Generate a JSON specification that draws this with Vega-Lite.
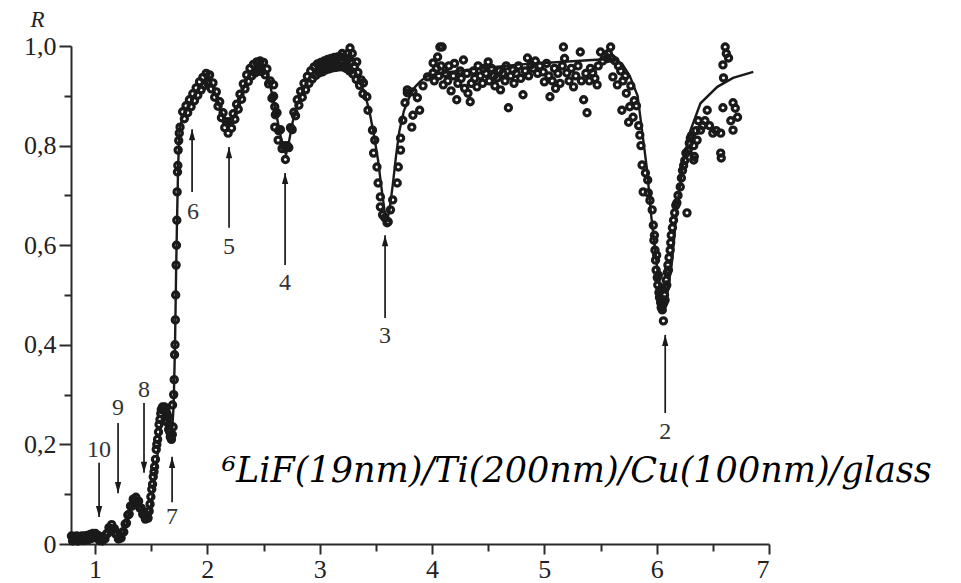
{
 "$schema": "https://vega.github.io/schema/vega-lite/v6.json",
 "width": 698, "height": 498,
 "autosize": "none",
 "padding": {"left": 71, "top": 46, "right": 192, "bottom": 39},
 "background": "white",
 "config": {"view": {"stroke": null}, "axis": {"grid": false, "domainColor": "#2a2a2a", "domainWidth": 2, "tickColor": "#2a2a2a", "tickWidth": 2, "labelFont": "Liberation Serif", "labelFontSize": 26, "labelColor": "#222"}},
 "datasets": {
  "fit": [
{"x":0.786,"y":0.010},{"x":0.85,"y":0.011},{"x":0.911,"y":0.011},{"x":0.96,"y":0.013},{"x":1.0,"y":0.015},{"x":1.035,"y":0.012},{"x":1.071,"y":0.009},{"x":1.11,"y":0.018},{"x":1.151,"y":0.032},{"x":1.19,"y":0.024},{"x":1.223,"y":0.012},{"x":1.26,"y":0.026},{"x":1.294,"y":0.05},{"x":1.325,"y":0.078},{"x":1.356,"y":0.088},{"x":1.385,"y":0.084},{"x":1.41,"y":0.072},{"x":1.44,"y":0.058},{"x":1.463,"y":0.054},{"x":1.485,"y":0.062},{"x":1.508,"y":0.09},{"x":1.53,"y":0.13},{"x":1.552,"y":0.17},{"x":1.575,"y":0.215},{"x":1.595,"y":0.25},{"x":1.615,"y":0.268},{"x":1.64,"y":0.268},{"x":1.665,"y":0.245},{"x":1.686,"y":0.225},{"x":1.70,"y":0.28},{"x":1.712,"y":0.40},{"x":1.722,"y":0.55},{"x":1.73,"y":0.65},{"x":1.74,"y":0.76},{"x":1.752,"y":0.83},{"x":1.775,"y":0.855},{"x":1.82,"y":0.874},{"x":1.86,"y":0.89},{"x":1.90,"y":0.906},{"x":1.94,"y":0.92},{"x":1.98,"y":0.933},{"x":2.0,"y":0.936},{"x":2.02,"y":0.932},{"x":2.06,"y":0.91},{"x":2.10,"y":0.886},{"x":2.14,"y":0.856},{"x":2.18,"y":0.835},{"x":2.22,"y":0.848},{"x":2.26,"y":0.873},{"x":2.30,"y":0.9},{"x":2.34,"y":0.927},{"x":2.38,"y":0.945},{"x":2.42,"y":0.955},{"x":2.46,"y":0.96},{"x":2.50,"y":0.957},{"x":2.54,"y":0.938},{"x":2.58,"y":0.9},{"x":2.62,"y":0.856},{"x":2.66,"y":0.81},{"x":2.70,"y":0.782},{"x":2.72,"y":0.8},{"x":2.76,"y":0.848},{"x":2.80,"y":0.882},{"x":2.84,"y":0.905},{"x":2.88,"y":0.924},{"x":2.92,"y":0.94},{"x":2.96,"y":0.95},{"x":3.0,"y":0.956},{"x":3.08,"y":0.964},{"x":3.16,"y":0.968},{"x":3.24,"y":0.965},{"x":3.28,"y":0.958},{"x":3.32,"y":0.946},{"x":3.36,"y":0.928},{"x":3.40,"y":0.905},{"x":3.44,"y":0.872},{"x":3.48,"y":0.825},{"x":3.52,"y":0.77},{"x":3.55,"y":0.715},{"x":3.58,"y":0.665},{"x":3.60,"y":0.652},{"x":3.62,"y":0.668},{"x":3.65,"y":0.72},{"x":3.68,"y":0.78},{"x":3.71,"y":0.83},{"x":3.75,"y":0.87},{"x":3.80,"y":0.898},{"x":3.85,"y":0.918},{"x":3.90,"y":0.93},{"x":3.95,"y":0.938},{"x":4.0,"y":0.942},{"x":4.16,"y":0.948},{"x":4.43,"y":0.955},{"x":4.79,"y":0.963},{"x":5.14,"y":0.968},{"x":5.50,"y":0.973},{"x":5.61,"y":0.974},{"x":5.69,"y":0.965},{"x":5.76,"y":0.94},{"x":5.83,"y":0.9},{"x":5.87,"y":0.83},{"x":5.915,"y":0.75},{"x":5.951,"y":0.66},{"x":5.987,"y":0.59},{"x":6.022,"y":0.52},{"x":6.058,"y":0.475},{"x":6.094,"y":0.5},{"x":6.138,"y":0.57},{"x":6.183,"y":0.68},{"x":6.236,"y":0.765},{"x":6.30,"y":0.83},{"x":6.39,"y":0.885},{"x":6.54,"y":0.918},{"x":6.68,"y":0.936},{"x":6.86,"y":0.948}
  ],
  "exp": [
{"x":0.79,"y":0.016},{"x":0.8,"y":0.006},{"x":0.812,"y":0.015},{"x":0.824,"y":0.007},{"x":0.836,"y":0.016},{"x":0.848,"y":0.006},{"x":0.86,"y":0.015},{"x":0.872,"y":0.008},{"x":0.884,"y":0.016},{"x":0.896,"y":0.007},{"x":0.908,"y":0.016},{"x":0.92,"y":0.008},{"x":0.932,"y":0.017},{"x":0.944,"y":0.009},{"x":0.956,"y":0.019},{"x":0.968,"y":0.011},{"x":0.98,"y":0.021},{"x":0.992,"y":0.013},{"x":1.004,"y":0.021},{"x":1.016,"y":0.012},{"x":1.028,"y":0.017},{"x":1.04,"y":0.007},{"x":1.052,"y":0.014},{"x":1.064,"y":0.006},{"x":1.076,"y":0.013},{"x":1.088,"y":0.01},{"x":1.1,"y":0.02},{"x":1.112,"y":0.021},{"x":1.124,"y":0.033},{"x":1.136,"y":0.03},{"x":1.148,"y":0.039},{"x":1.16,"y":0.03},{"x":1.172,"y":0.031},{"x":1.184,"y":0.02},{"x":1.196,"y":0.02},{"x":1.208,"y":0.01},{"x":1.22,"y":0.015},{"x":1.232,"y":0.012},{"x":1.244,"y":0.024},{"x":1.256,"y":0.024},{"x":1.268,"y":0.04},{"x":1.28,"y":0.042},{"x":1.292,"y":0.058},{"x":1.304,"y":0.06},{"x":1.316,"y":0.076},{"x":1.328,"y":0.076},{"x":1.34,"y":0.09},{"x":1.352,"y":0.086},{"x":1.364,"y":0.094},{"x":1.376,"y":0.084},{"x":1.388,"y":0.086},{"x":1.4,"y":0.072},{"x":1.412,"y":0.072},{"x":1.424,"y":0.06},{"x":1.436,"y":0.062},{"x":1.448,"y":0.05},{"x":1.46,"y":0.058},{"x":1.472,"y":0.052},
{"x":1.482,"y":0.066},{"x":1.49,"y":0.08},{"x":1.497,"y":0.095},{"x":1.505,"y":0.11},{"x":1.512,"y":0.12},{"x":1.518,"y":0.135},{"x":1.525,"y":0.145},{"x":1.53,"y":0.155},{"x":1.538,"y":0.17},{"x":1.545,"y":0.19},{"x":1.55,"y":0.2},{"x":1.557,"y":0.21},{"x":1.565,"y":0.225},{"x":1.57,"y":0.24},{"x":1.578,"y":0.25},{"x":1.585,"y":0.262},{"x":1.59,"y":0.27},{"x":1.6,"y":0.275},{"x":1.61,"y":0.27},{"x":1.62,"y":0.275},{"x":1.63,"y":0.27},{"x":1.64,"y":0.262},{"x":1.65,"y":0.255},{"x":1.66,"y":0.24},{"x":1.665,"y":0.225},{"x":1.67,"y":0.215},{"x":1.68,"y":0.21},{"x":1.688,"y":0.22},{"x":1.695,"y":0.235},{"x":1.64,"y":0.245},{"x":1.655,"y":0.23},{"x":1.69,"y":0.279},
{"x":1.7,"y":0.3},{"x":1.705,"y":0.33},{"x":1.708,"y":0.38},{"x":1.712,"y":0.4},{"x":1.715,"y":0.45},{"x":1.718,"y":0.5},{"x":1.722,"y":0.56},{"x":1.725,"y":0.6},{"x":1.728,"y":0.65},{"x":1.731,"y":0.707},{"x":1.734,"y":0.747},{"x":1.737,"y":0.76},{"x":1.74,"y":0.791},{"x":1.745,"y":0.81},{"x":1.75,"y":0.825},{"x":1.757,"y":0.837},
{"x":1.78,"y":0.868},{"x":1.795,"y":0.854},{"x":1.81,"y":0.88},{"x":1.825,"y":0.866},{"x":1.84,"y":0.892},{"x":1.855,"y":0.878},{"x":1.87,"y":0.904},{"x":1.885,"y":0.89},{"x":1.9,"y":0.916},{"x":1.915,"y":0.901},{"x":1.93,"y":0.928},{"x":1.945,"y":0.912},{"x":1.96,"y":0.937},{"x":1.975,"y":0.921},{"x":1.99,"y":0.945},{"x":2.005,"y":0.925},{"x":2.02,"y":0.942},{"x":2.035,"y":0.914},{"x":2.05,"y":0.926},{"x":2.065,"y":0.897},{"x":2.08,"y":0.908},{"x":2.095,"y":0.879},{"x":2.11,"y":0.888},{"x":2.125,"y":0.856},{"x":2.14,"y":0.866},{"x":2.155,"y":0.836},{"x":2.17,"y":0.848},{"x":2.185,"y":0.825},{"x":2.2,"y":0.848},{"x":2.215,"y":0.835},{"x":2.23,"y":0.864},{"x":2.245,"y":0.853},{"x":2.26,"y":0.883},{"x":2.275,"y":0.873},{"x":2.29,"y":0.903},{"x":2.305,"y":0.893},{"x":2.32,"y":0.924},{"x":2.335,"y":0.914},{"x":2.35,"y":0.942},{"x":2.365,"y":0.929},{"x":2.38,"y":0.955},{"x":2.395,"y":0.94},{"x":2.41,"y":0.963},{"x":2.425,"y":0.946},{"x":2.44,"y":0.968},{"x":2.455,"y":0.949},{"x":2.47,"y":0.97},{"x":2.485,"y":0.949},{"x":2.5,"y":0.967},{"x":2.515,"y":0.942},{"x":2.53,"y":0.954},{"x":2.545,"y":0.924},{"x":2.56,"y":0.93},{"x":2.575,"y":0.895},{"x":2.59,"y":0.899},{"x":2.605,"y":0.862},{"x":2.62,"y":0.866},{"x":2.635,"y":0.83},{"x":2.65,"y":0.832},{"x":2.665,"y":0.794},{"x":2.68,"y":0.8},{"x":2.695,"y":0.772},{"x":2.71,"y":0.8},{"x":2.725,"y":0.796},{"x":2.74,"y":0.836},{"x":2.755,"y":0.832},{"x":2.77,"y":0.867},{"x":2.785,"y":0.86},{"x":2.8,"y":0.892},{"x":2.815,"y":0.881},{"x":2.83,"y":0.909},{"x":2.845,"y":0.897},{"x":2.86,"y":0.925},{"x":2.875,"y":0.912},{"x":2.89,"y":0.939},{"x":2.905,"y":0.925},{"x":2.92,"y":0.95},{"x":2.935,"y":0.934},{"x":2.95,"y":0.958},{"x":2.965,"y":0.941},{"x":2.98,"y":0.964},{"x":2.995,"y":0.946},{"x":3.01,"y":0.967},{"x":3.025,"y":0.948},{"x":3.04,"y":0.97},{"x":3.055,"y":0.952},{"x":3.07,"y":0.973},{"x":3.085,"y":0.954},{"x":3.1,"y":0.975},{"x":3.115,"y":0.956},{"x":3.13,"y":0.977},{"x":3.145,"y":0.957},{"x":3.16,"y":0.978},{"x":3.175,"y":0.958},{"x":3.19,"y":0.978},{"x":3.205,"y":0.958},{"x":3.22,"y":0.977},{"x":3.235,"y":0.955},{"x":3.25,"y":0.973},{"x":3.265,"y":0.95},{"x":3.28,"y":0.968},{"x":3.295,"y":0.944},{"x":3.31,"y":0.959},{"x":3.325,"y":0.933},{"x":3.34,"y":0.947},{"x":3.355,"y":0.921},{"x":3.37,"y":0.932},{"x":3.385,"y":0.904},
{"x":3.27,"y":0.996},{"x":3.25,"y":0.985},{"x":3.29,"y":0.985},{"x":3.2,"y":0.985},{"x":2.59,"y":0.922},{"x":2.6,"y":0.878},{"x":2.6,"y":0.837},{"x":2.63,"y":0.811},
{"x":3.33,"y":0.968},{"x":3.39,"y":0.926},{"x":3.42,"y":0.898},{"x":3.43,"y":0.871},{"x":3.47,"y":0.831},{"x":3.49,"y":0.811},{"x":3.48,"y":0.785},{"x":3.51,"y":0.757},{"x":3.52,"y":0.725},{"x":3.54,"y":0.697},{"x":3.54,"y":0.677},{"x":3.56,"y":0.661},{"x":3.58,"y":0.655},{"x":3.6,"y":0.645},{"x":3.61,"y":0.647},{"x":3.63,"y":0.671},{"x":3.65,"y":0.691},{"x":3.69,"y":0.725},{"x":3.7,"y":0.757},{"x":3.72,"y":0.791},{"x":3.72,"y":0.815},{"x":3.74,"y":0.851},{"x":3.76,"y":0.886},{"x":3.78,"y":0.912},{"x":3.78,"y":0.906},{"x":3.83,"y":0.861},{"x":3.82,"y":0.837},{"x":3.83,"y":0.908},{"x":3.87,"y":0.896},{"x":3.89,"y":0.871},{"x":3.92,"y":0.92},{"x":3.96,"y":0.938},{"x":4.01,"y":0.946},{"x":4.01,"y":0.966},{"x":4.05,"y":0.978},{"x":4.09,"y":0.998},
{"x":4.02,"y":0.93},{"x":4.04,"y":0.955},{"x":4.06,"y":0.94},{"x":4.07,"y":0.998},{"x":4.08,"y":0.96},{"x":4.1,"y":0.922},{"x":4.12,"y":0.945},{"x":4.14,"y":0.93},{"x":4.15,"y":0.96},{"x":4.17,"y":0.91},{"x":4.19,"y":0.94},{"x":4.2,"y":0.965},{"x":4.22,"y":0.892},{"x":4.23,"y":0.925},{"x":4.25,"y":0.95},{"x":4.26,"y":0.935},{"x":4.28,"y":0.972},{"x":4.29,"y":0.915},{"x":4.31,"y":0.945},{"x":4.32,"y":0.905},{"x":4.34,"y":0.888},{"x":4.35,"y":0.925},{"x":4.37,"y":0.95},{"x":4.38,"y":0.935},{"x":4.4,"y":0.918},{"x":4.41,"y":0.96},{"x":4.43,"y":0.94},{"x":4.45,"y":0.925},{"x":4.46,"y":0.955},{"x":4.48,"y":0.945},{"x":4.5,"y":0.968},{"x":4.51,"y":0.93},{"x":4.53,"y":0.955},{"x":4.55,"y":0.94},{"x":4.56,"y":0.92},{"x":4.58,"y":0.936},{"x":4.6,"y":0.95},{"x":4.61,"y":0.912},{"x":4.63,"y":0.945},{"x":4.65,"y":0.93},{"x":4.66,"y":0.96},{"x":4.68,"y":0.876},{"x":4.7,"y":0.94},{"x":4.72,"y":0.952},{"x":4.73,"y":0.925},{"x":4.75,"y":0.945},{"x":4.77,"y":0.96},{"x":4.79,"y":0.935},{"x":4.81,"y":0.902},{"x":4.83,"y":0.95},{"x":4.85,"y":0.976},{"x":4.86,"y":0.94},{"x":4.88,"y":0.962},{"x":4.9,"y":0.955},{"x":4.92,"y":0.97},{"x":4.94,"y":0.945},{"x":4.96,"y":0.96},{"x":4.99,"y":0.948},{"x":5.0,"y":0.928},{"x":5.02,"y":0.965},{"x":5.04,"y":0.94},{"x":5.05,"y":0.898},{"x":5.07,"y":0.93},{"x":5.09,"y":0.955},{"x":5.1,"y":0.915},{"x":5.12,"y":0.945},{"x":5.14,"y":0.925},{"x":5.16,"y":0.96},{"x":5.17,"y":0.998},{"x":5.18,"y":0.975},{"x":5.2,"y":0.946},{"x":5.22,"y":0.93},{"x":5.24,"y":0.955},{"x":5.26,"y":0.918},{"x":5.28,"y":0.94},{"x":5.3,"y":0.96},{"x":5.32,"y":0.988},{"x":5.33,"y":0.93},{"x":5.35,"y":0.892},{"x":5.37,"y":0.945},{"x":5.38,"y":0.866},{"x":5.4,"y":0.93},{"x":5.41,"y":0.955},{"x":5.43,"y":0.946},{"x":5.45,"y":0.935},{"x":5.47,"y":0.922},{"x":5.48,"y":0.96},{"x":5.5,"y":0.988},{"x":5.52,"y":0.97},{"x":5.54,"y":0.98},{"x":5.56,"y":0.975},{"x":5.57,"y":0.985},{"x":5.59,"y":0.998},{"x":5.6,"y":0.975},{"x":5.61,"y":0.938},{"x":5.63,"y":0.97},{"x":5.65,"y":0.922},{"x":5.66,"y":0.96},{"x":5.68,"y":0.95},{"x":5.69,"y":0.871},{"x":5.7,"y":0.93},{"x":5.72,"y":0.94},{"x":5.73,"y":0.905},{"x":5.75,"y":0.847},{"x":5.76,"y":0.878},{"x":5.77,"y":0.92},{"x":5.79,"y":0.857},{"x":5.8,"y":0.89},{"x":5.82,"y":0.88},{"x":5.84,"y":0.84},{"x":5.85,"y":0.821},{"x":5.86,"y":0.8},{"x":5.87,"y":0.761},{"x":5.88,"y":0.707},{"x":5.9,"y":0.745},{"x":5.92,"y":0.731},{"x":5.925,"y":0.705},{"x":5.94,"y":0.69},{"x":5.96,"y":0.671},
{"x":5.97,"y":0.64},{"x":5.975,"y":0.61},{"x":5.98,"y":0.62},{"x":5.985,"y":0.59},{"x":5.99,"y":0.57},{"x":5.995,"y":0.55},{"x":6.0,"y":0.58},{"x":6.005,"y":0.535},{"x":6.01,"y":0.52},{"x":6.015,"y":0.54},{"x":6.02,"y":0.505},{"x":6.025,"y":0.495},{"x":6.03,"y":0.51},{"x":6.035,"y":0.485},{"x":6.04,"y":0.475},{"x":6.045,"y":0.49},{"x":6.05,"y":0.47},{"x":6.055,"y":0.48},{"x":6.06,"y":0.448},{"x":6.065,"y":0.485},{"x":6.07,"y":0.5},{"x":6.075,"y":0.49},{"x":6.08,"y":0.515},{"x":6.085,"y":0.53},{"x":6.09,"y":0.52},{"x":6.095,"y":0.545},{"x":6.1,"y":0.56},{"x":6.105,"y":0.55},{"x":6.11,"y":0.575},{"x":6.12,"y":0.59},{"x":6.125,"y":0.605},{"x":6.13,"y":0.62},{"x":6.14,"y":0.635},{"x":6.15,"y":0.65},{"x":6.16,"y":0.665},{"x":6.17,"y":0.68},{"x":6.18,"y":0.685},{"x":6.19,"y":0.7},{"x":6.21,"y":0.717},{"x":6.22,"y":0.735},{"x":6.23,"y":0.75},{"x":6.24,"y":0.76},{"x":6.25,"y":0.77},{"x":6.26,"y":0.785},{"x":6.27,"y":0.665},{"x":6.28,"y":0.79},{"x":6.29,"y":0.805},{"x":6.3,"y":0.815},{"x":6.31,"y":0.82},{"x":6.33,"y":0.771},{"x":6.335,"y":0.778},{"x":6.33,"y":0.8},{"x":6.35,"y":0.83},{"x":6.36,"y":0.811},{"x":6.37,"y":0.85},{"x":6.39,"y":0.831},{"x":6.41,"y":0.84},{"x":6.43,"y":0.85},{"x":6.45,"y":0.871},{"x":6.47,"y":0.84},{"x":6.5,"y":0.825},{"x":6.53,"y":0.83},{"x":6.57,"y":0.825},{"x":6.57,"y":0.785},{"x":6.575,"y":0.775},{"x":6.59,"y":0.876},{"x":6.59,"y":0.962},{"x":6.595,"y":0.936},{"x":6.61,"y":0.998},{"x":6.62,"y":0.985},{"x":6.64,"y":0.976},{"x":6.66,"y":0.85},{"x":6.68,"y":0.831},{"x":6.68,"y":0.886},{"x":6.7,"y":0.875},{"x":6.72,"y":0.857}
  ],
  "arrows": [
{"x":1.036,"base":0.163,"tip":0.054,"dir":"down"},{"x":1.205,"base":0.243,"tip":0.102,"dir":"down"},{"x":1.436,"base":0.283,"tip":0.143,"dir":"down"},{"x":1.686,"base":0.084,"tip":0.175,"dir":"up"},{"x":1.864,"base":0.707,"tip":0.833,"dir":"up"},{"x":2.193,"base":0.635,"tip":0.797,"dir":"up"},{"x":2.692,"base":0.56,"tip":0.745,"dir":"up"},{"x":3.582,"base":0.454,"tip":0.62,"dir":"up"},{"x":6.076,"base":0.263,"tip":0.42,"dir":"up"}
  ],
  "labels": [
{"x":1.036,"y":0.189,"t":"10"},{"x":1.205,"y":0.273,"t":"9"},{"x":1.436,"y":0.309,"t":"8"},{"x":1.686,"y":0.054,"t":"7"},{"x":1.872,"y":0.667,"t":"6"},{"x":2.193,"y":0.596,"t":"5"},{"x":2.692,"y":0.524,"t":"4"},{"x":3.582,"y":0.418,"t":"3"},{"x":6.076,"y":0.225,"t":"2"}
  ],
  "note": [{"x":2.131,"y":0.125,"t":"⁶LiF(19nm)/Ti(200nm)/Cu(100nm)/glass"}]
 },
 "layer": [
  {
   "data": {"name": "fit"},
   "mark": {"type": "line", "color": "#1a1a1a", "strokeWidth": 2.4},
   "encoding": {
    "x": {"field": "x", "type": "quantitative", "scale": {"domain": [0.786, 7], "nice": false, "zero": false},
      "axis": {"orient": "bottom", "values": [1,2,3,4,5,6,7], "format": "d", "tickSize": 10, "labelPadding": 2, "labelFontSize": 26, "labelFont": "Liberation Serif", "title": null}},
    "y": {"field": "y", "type": "quantitative", "scale": {"domain": [0, 1], "nice": false, "zero": false},
      "axis": {"orient": "left", "values": [0,0.2,0.4,0.6,0.8,1.0], "tickSize": 12, "labelPadding": 3, "labelFontSize": 26, "labelFont": "Liberation Serif",
        "labelExpr": "datum.value == 0 ? '0' : replace(format(datum.value, '.1f'), '.', ',')",
        "title": "R", "titleAngle": 0, "titleFont": "Liberation Serif", "titleFontStyle": "italic", "titleFontWeight": "normal", "titleFontSize": 23, "titleColor": "#222", "titleX": -34, "titleY": -27, "titleAlign": "center", "titleBaseline": "middle"}}
   }
  },
  {
   "data": {"name": "exp"},
   "mark": {"type": "point", "shape": "circle", "filled": false, "stroke": "#1a1a1a", "strokeWidth": 3.2, "size": 38, "opacity": 1},
   "encoding": {
    "x": {"field": "x", "type": "quantitative", "axis": {"orient": "bottom", "values": [1.5,2.5,3.5,4.5,5.5,6.5], "labels": false, "domain": false, "tickSize": 7, "title": null}},
    "y": {"field": "y", "type": "quantitative", "axis": {"orient": "left", "values": [0.1,0.3,0.5,0.7,0.9], "labels": false, "domain": false, "tickSize": 7, "title": null}}
   }
  },
  {
   "data": {"name": "arrows"},
   "mark": {"type": "rule", "color": "#1a1a1a", "strokeWidth": 1.7},
   "encoding": {
    "x": {"field": "x", "type": "quantitative", "axis": null},
    "y": {"field": "base", "type": "quantitative", "axis": null},
    "y2": {"field": "tip"}
   }
  },
  {
   "data": {"name": "arrows"},
   "mark": {"type": "point", "filled": true, "color": "#1a1a1a", "size": 36, "opacity": 1, "strokeWidth": 0},
   "encoding": {
    "x": {"field": "x", "type": "quantitative", "axis": null},
    "y": {"field": "tip", "type": "quantitative", "axis": null},
    "shape": {"field": "dir", "type": "nominal", "legend": null, "scale": {"domain": ["up", "down"], "range": ["M0,0L-1.05,3.7L1.05,3.7Z", "M0,0L-1.05,-3.7L1.05,-3.7Z"]}}
   }
  },
  {
   "data": {"name": "labels"},
   "mark": {"type": "text", "font": "Liberation Serif", "fontSize": 24, "color": "#333", "align": "center", "baseline": "middle"},
   "encoding": {
    "x": {"field": "x", "type": "quantitative", "axis": null},
    "y": {"field": "y", "type": "quantitative", "axis": null},
    "text": {"field": "t"}
   }
  },
  {
   "data": {"name": "note"},
   "mark": {"type": "text", "font": "DejaVu Serif", "fontStyle": "italic", "fontSize": 35, "color": "#000", "align": "left", "baseline": "alphabetic"},
   "encoding": {
    "x": {"field": "x", "type": "quantitative", "axis": null},
    "y": {"field": "y", "type": "quantitative", "axis": null},
    "text": {"field": "t"}
   }
  }
 ],
 "resolve": {"axis": {"x": "independent", "y": "independent"}}
}
